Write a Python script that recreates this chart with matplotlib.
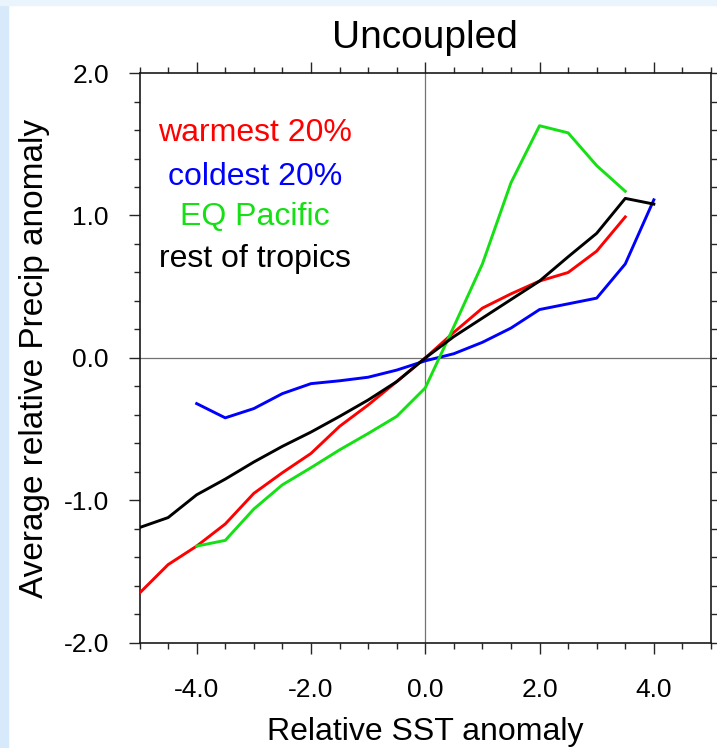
import matplotlib
matplotlib.use("Agg")
import matplotlib.pyplot as plt
from matplotlib.patches import Rectangle
from matplotlib.ticker import MultipleLocator, FormatStrFormatter

plt.rcParams['font.family'] = ['Liberation Sans', 'DejaVu Sans']

# values
x_warm = [-5.0, -4.5, -4.0, -3.5, -3.0, -2.5, -2.0, -1.5, -1.0, -0.5,
          0.0, 0.5, 1.0, 1.5, 2.0, 2.5, 3.0, 3.5]
warm = [-1.65, -1.45, -1.32, -1.165, -0.95, -0.805, -0.67, -0.48, -0.33, -0.166,
        0.0, 0.18, 0.35, 0.45, 0.54, 0.60, 0.75, 0.99]

x_cold = [-4.0, -3.5, -3.0, -2.5, -2.0, -1.5, -1.0, -0.5,
          0.0, 0.5, 1.0, 1.5, 2.0, 2.5, 3.0, 3.5, 4.0]
cold = [-0.32, -0.42, -0.355, -0.25, -0.18, -0.16, -0.135, -0.085,
        -0.02, 0.03, 0.11, 0.21, 0.34, 0.38, 0.42, 0.66, 1.11]

x_eq = [-4.0, -3.5, -3.0, -2.5, -2.0, -1.5, -1.0, -0.5,
        0.0, 0.5, 1.0, 1.5, 2.0, 2.5, 3.0, 3.5]
eq_pac = [-1.32, -1.28, -1.06, -0.89, -0.77, -0.645, -0.53, -0.41,
          -0.21, 0.22, 0.66, 1.23, 1.63, 1.58, 1.35, 1.17]

x_rest = [-5.0, -4.5, -4.0, -3.5, -3.0, -2.5, -2.0, -1.5, -1.0, -0.5,
          0.0, 0.5, 1.0, 1.5, 2.0, 2.5, 3.0, 3.5, 4.0]
rest = [-1.19, -1.12, -0.96, -0.85, -0.73, -0.62, -0.52, -0.41, -0.295, -0.166,
        0.0, 0.15, 0.28, 0.41, 0.54, 0.71, 0.875, 1.12, 1.08]

labels = ['warmest 20%', 'coldest 20%', 'EQ Pacific', 'rest of tropics']
colors = ['#ff0000', '#0000ff', '#14e014', '#000000']

fig = plt.figure(figsize=(7.17, 7.48), dpi=100)

# light blue slide background strips
fig.patches.append(Rectangle((0, 0), 8 / 717, 1, transform=fig.transFigure,
                             color='#d6eafb', zorder=-1))
fig.patches.append(Rectangle((0, 1 - 5 / 748), 1, 5 / 748, transform=fig.transFigure,
                             color='#eaf4fd', zorder=-1))

ax = fig.add_axes([0.1946, 0.1404, 0.797, 0.762])

ax.axhline(0, color='0.45', lw=0.9, zorder=1)
ax.axvline(0, color='0.45', lw=0.9, zorder=1)

series = [(x_warm, warm), (x_cold, cold), (x_eq, eq_pac), (x_rest, rest)]
for (xs, ys), c in zip(series, colors):
    ax.plot(xs, ys, color=c, lw=2.1, zorder=3)

ax.set_xlim(-5, 5)
ax.set_ylim(-2, 2)

ax.xaxis.set_major_locator(MultipleLocator(2))
ax.xaxis.set_minor_locator(MultipleLocator(0.5))
ax.yaxis.set_major_locator(MultipleLocator(1))
ax.yaxis.set_minor_locator(MultipleLocator(0.2))
ax.xaxis.set_major_formatter(FormatStrFormatter('%.1f'))
ax.yaxis.set_major_formatter(FormatStrFormatter('%.1f'))

ax.tick_params(which='both', direction='out', top=True, right=True,
               labeltop=False, labelright=False, width=1.0, color='0.15')
ax.tick_params(which='major', length=8, pad=14, labelsize=19)
ax.tick_params(which='minor', length=4)
ax.tick_params(axis='x', which='major', pad=17)
for sp in ax.spines.values():
    sp.set_linewidth(1.2)
    sp.set_color('0.1')

ax.set_title('Uncoupled', fontsize=28, pad=18)
ax.set_xlabel('Relative SST anomaly', fontsize=23, labelpad=11)
ax.set_ylabel('Average relative Precip anomaly', fontsize=24, labelpad=10)

ypos = [0.895, 0.817, 0.747, 0.673]
for lab, c, yp in zip(labels, colors, ypos):
    ax.text(0.202, yp, lab, color=c, fontsize=23, ha='center', va='center',
            transform=ax.transAxes)

fig.savefig('out.png', dpi=100)
